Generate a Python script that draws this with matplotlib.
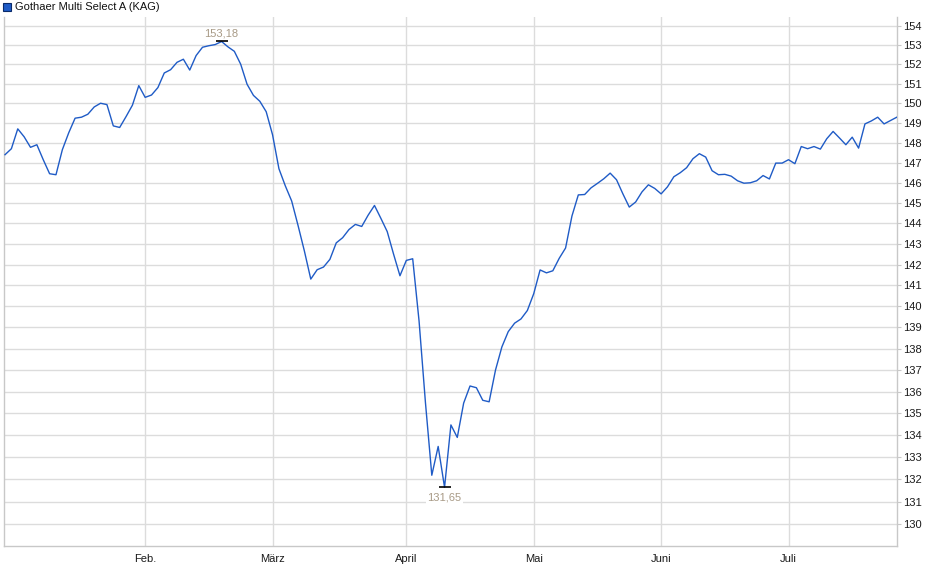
import numpy as np
import pandas as pd
import matplotlib
matplotlib.use('Agg')
import matplotlib.pyplot as plt
from matplotlib.patches import Rectangle
from matplotlib.ticker import FixedLocator, NullLocator, FuncFormatter

plt.rcParams['font.family'] = ['Liberation Sans', 'DejaVu Sans']

# trading days (German fund calendar)
holidays = ['2025-04-18', '2025-04-21', '2025-05-01', '2025-05-29', '2025-06-09']
dates = pd.bdate_range('2025-01-02', '2025-07-24')
dates = dates[~dates.isin(pd.to_datetime(holidays))]

values = [
    147.40, 147.70, 148.70, 148.30, 147.77, 147.90, 147.15, 146.45, 146.40, 147.65,
    148.50, 149.24, 149.29, 149.44, 149.81, 150.00, 149.93, 148.85, 148.77, 149.32,
    149.90, 150.90, 150.30, 150.42, 150.80, 151.55, 151.72, 152.10, 152.26, 151.70,
    152.45, 152.88, 152.96, 153.02, 153.18, 152.90, 152.67, 152.00, 150.97, 150.40,
    150.10, 149.57, 148.40, 146.70, 145.85, 145.10, 143.90, 142.65, 141.30, 141.75,
    141.88, 142.25, 143.05, 143.30, 143.70, 143.95, 143.85, 144.40, 144.88, 144.25,
    143.60, 142.50, 141.46, 142.20, 142.28, 139.30, 135.50, 132.19, 133.49, 131.65,
    134.47, 133.90, 135.47, 136.26, 136.18, 135.60, 135.53, 137.00, 138.08, 138.80,
    139.20, 139.40, 139.80, 140.60, 141.74, 141.60, 141.70, 142.30, 142.80, 144.36,
    145.40, 145.42, 145.75, 145.97, 146.20, 146.48, 146.15, 145.45, 144.80, 145.05,
    145.55, 145.90, 145.72, 145.45, 145.80, 146.30, 146.50, 146.75, 147.20, 147.45,
    147.28, 146.60, 146.40, 146.42, 146.33, 146.10, 145.98, 146.00, 146.10, 146.36,
    146.19, 146.98, 146.98, 147.15, 146.95, 147.81, 147.70, 147.81, 147.68, 148.20,
    148.57, 148.24, 147.90, 148.28, 147.73, 148.95, 149.10, 149.29, 148.95, 149.12,
    149.29,
]

month_labels = ['Feb.', 'März', 'April', 'Mai', 'Juni', 'Juli']
y_ticks = list(range(130, 155))
series_name = 'Gothaer Multi Select A (KAG)'

x = np.arange(len(values))
months = dates.month[:len(values)]
tick_idx = [int(np.argmax(months == m)) for m in range(2, 8)]

fig = plt.figure(figsize=(9.4, 5.79), dpi=100)
ax = fig.add_axes([4 / 940, 33 / 579, 893 / 940, 529 / 579])

ax.plot(x, values, color='#1f5bc6', lw=1.0, zorder=3)

ax.set_yscale('log')
ax.set_ylim(129.05, 154.46)
ax.set_xlim(-0.16, len(values) - 1 + 0.03)
ax.yaxis.set_major_locator(FixedLocator(y_ticks))
ax.yaxis.set_minor_locator(NullLocator())
ax.yaxis.set_major_formatter(FuncFormatter(lambda v, p: f'{v:.0f}'))
ax.yaxis.tick_right()
ax.tick_params(axis='y', length=3, color='#c8c8c8', labelsize=8, pad=1.5, labelcolor='#1a1a1a')
ax.set_xticks(tick_idx)
ax.set_xticklabels(month_labels)
ax.tick_params(axis='x', length=0, labelsize=8, pad=6, labelcolor='#1a1a1a')
ax.grid(color='#dcdcdc', lw=1)
ax.set_axisbelow(True)

ax.spines['top'].set_visible(False)
for s in ['left', 'right', 'bottom']:
    ax.spines[s].set_color('#c8c8c8')
    ax.spines[s].set_linewidth(1)

# high / low markers
imax = int(np.argmax(values))
imin = int(np.argmin(values))
ax.plot(imax, values[imax], marker='_', ms=9, mew=1.2, color='black', zorder=4)
ax.plot(imin, values[imin], marker='_', ms=9, mew=1.2, color='black', zorder=4)
ax.annotate(f'{values[imax]:.2f}'.replace('.', ','), xy=(imax, values[imax]),
            xytext=(0, 2), textcoords='offset points', ha='center', va='bottom',
            fontsize=8, color='#a89a86')
ax.annotate(f'{values[imin]:.2f}'.replace('.', ','), xy=(imin, values[imin]),
            xytext=(0, -4), textcoords='offset points', ha='center', va='top',
            fontsize=8, color='#a89a86',
            bbox=dict(boxstyle='square,pad=0.1', fc='white', ec='none'))

# legend
fig.add_artist(Rectangle((3 / 940, 1 - 11 / 579), 8 / 940, 8 / 579,
                         transform=fig.transFigure, facecolor='#1f5bc6',
                         edgecolor='#0a2a6a', lw=0.8))
fig.text(15 / 940, 1 - 7 / 579, series_name, fontsize=8, va='center', ha='left',
         color='#111111')

fig.savefig('out.png', dpi=100)
